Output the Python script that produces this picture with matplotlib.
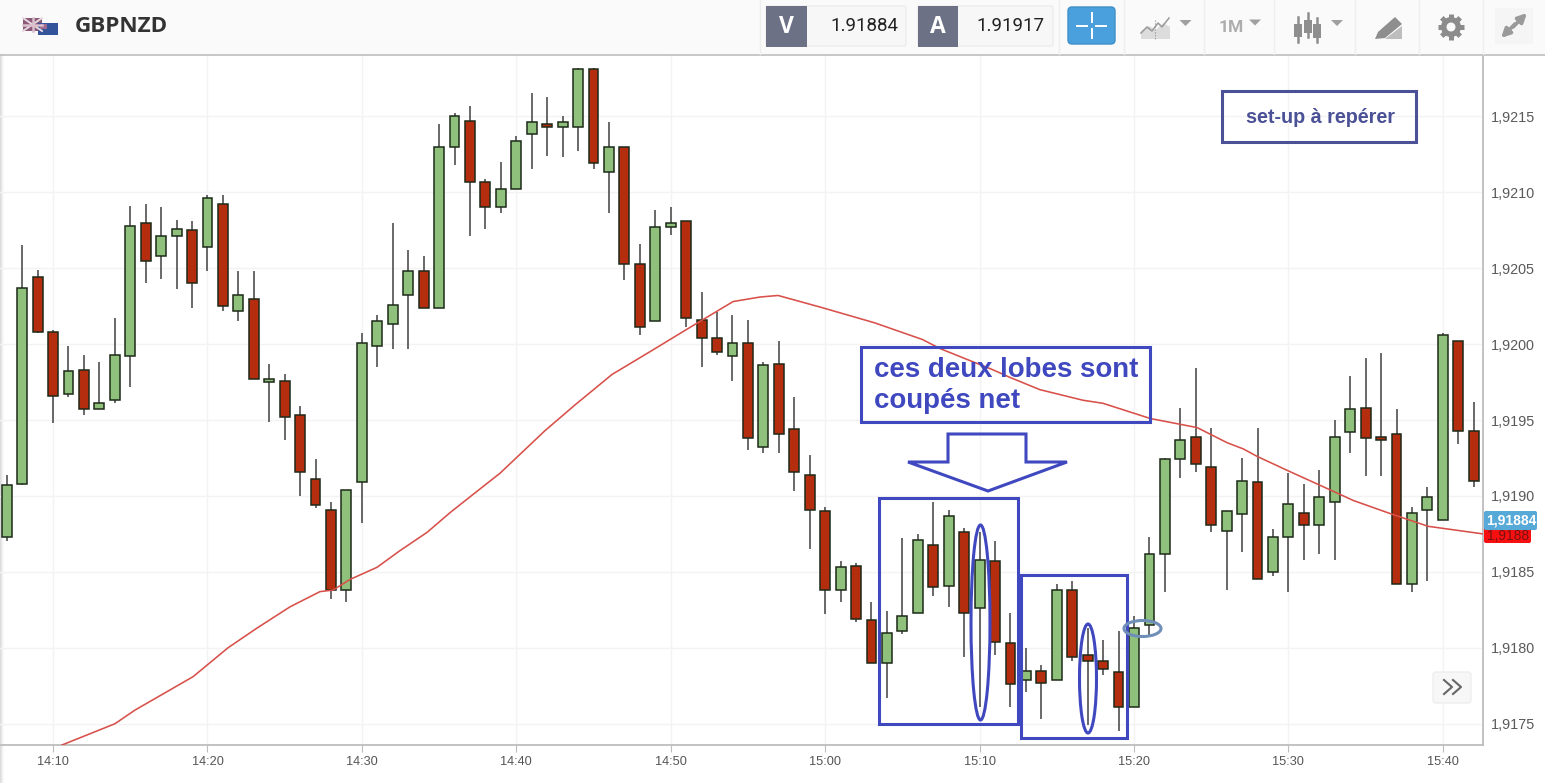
import numpy as np
import matplotlib
matplotlib.use("Agg")
import matplotlib.pyplot as plt
from matplotlib.patches import Rectangle, Ellipse, Polygon, FancyBboxPatch, Circle

# Prices in units of 0.00001, one candle per minute from 14:07
tops = [191907,192037,192044,192008,191982,191983,191961,191993,192078,192080,192071,192076,192075,192096,192092,192032,
        192030,191977,191976,191953,191911,191891,191904,192001,192015,192026,192048,192048,192130,192150,192147,192107,
        192102,192134,192146,192145,192146,192181,192181,192130,192130,192053,192077,192080,192081,192016,192004,192001,
        192001,191986,191987,191944,191914,191890,191853,191854,191818,191810,191821,191871,191868,191887,191876,191858,
        191857,191803,191785,191785,191838,191838,191795,191791,191784,191813,191862,191924,191937,191939,191919,191890,
        191910,191909,191873,191895,191889,191899,191939,191957,191958,191939,191941,191889,191899,192006,192002,191943]
bottoms = [191873,191908,192008,191966,191967,191957,191957,191963,191992,192055,192058,192071,192040,192064,192025,192022,
           191977,191975,191952,191916,191894,191838,191838,191909,191999,192013,192032,192024,192024,192130,192107,192090,
           192090,192102,192138,192143,192143,192143,192119,192113,192053,192011,192015,192077,192017,192004,191995,191992,
           191938,191932,191941,191916,191891,191838,191838,191819,191790,191790,191811,191823,191840,191841,191823,191826,
           191804,191776,191779,191777,191779,191794,191791,191786,191761,191761,191815,191862,191924,191921,191881,191877,
           191888,191845,191850,191873,191881,191881,191896,191942,191938,191937,191842,191842,191891,191884,191943,191910]
highs = [191914,192065,192049,192009,191999,191993,191988,192017,192091,192092,192090,192082,192081,192098,192098,192048,
         192048,191987,191980,191959,191924,191896,191904,192007,192019,192080,192062,192058,192145,192152,192157,192109,
         192120,192137,192165,192163,192150,192182,192182,192146,192130,192066,192088,192090,192081,192034,192021,192019,
         192016,191988,192002,191965,191927,191893,191857,191856,191830,191824,191872,191875,191896,191891,191879,191876,
         191870,191823,191800,191789,191842,191844,191813,191805,191811,191821,191873,191925,191958,191984,191945,191890,
         191925,191945,191878,191915,191908,191917,191950,191979,191991,191994,191957,191893,191906,192007,192002,191962]
lows = [191870,191907,192007,191948,191965,191953,191957,191961,191972,192040,192043,192036,192024,192048,192022,192015,
        191977,191949,191937,191900,191892,191832,191830,191882,191985,191997,191997,192024,192024,192118,192071,192076,
        192086,192102,192115,192124,192123,192127,192115,192086,192042,192006,192015,192072,192011,191985,191993,191976,
        191930,191928,191928,191903,191865,191822,191830,191817,191790,191767,191809,191823,191834,191827,191794,191761,
        191795,191761,191771,191753,191779,191791,191749,191782,191745,191761,191807,191837,191912,191916,191876,191838,
        191863,191845,191847,191837,191858,191862,191858,191928,191913,191913,191842,191837,191844,191884,191934,191906]
rising = [1,1,0,0,1,0,1,1,1,0,1,1,0,1,0,1,0,1,0,0,0,0,1,1,1,1,1,0,1,1,0,0,1,1,1,0,1,1,0,1,0,0,1,1,0,0,0,1,
          0,1,0,0,0,0,1,0,0,1,1,1,0,1,0,1,0,0,1,0,1,0,0,0,0,1,1,1,1,0,0,1,1,0,1,1,0,1,1,1,0,0,0,1,1,1,0,0]

ma_minutes = [3.58,7.01,8.31,12.07,14.33,16.21,18.35,20.29,21.13,22.23,23.98,25.47,27.22,28.71,30.2,31.95,34.86,36.81,
              39.2,41.66,44.25,47.04,48.8,49.95,52.8,56.2,59.3,60.45,63.88,64.98,66.9,69.7,70.99,74.05,77.09,79.04,
              80.07,80.98,83.1,85.05,86.35,87.2,89.7,92.05,95.6]
ma_values = [191736,191750,191759,191781,191800,191813,191827,191837,191838,191845,191853,191864,191876,191889,191901,
             191915,191943,191960,191980,191995,192011,192028,192031,192032,192024,192014,192003,191997,191983,191978,
             191970,191963,191961,191951,191945,191935,191931,191926,191916,191907,191901,191897,191888,191880,191875]

price_ticks = [1.9175,1.9180,1.9185,1.9190,1.9195,1.9200,1.9205,1.9210,1.9215]
price_labels = ["1,9175","1,9180","1,9185","1,9190","1,9195","1,9200","1,9205","1,9210","1,9215"]
time_ticks = [3,13,23,33,43,53,63,73,83,93]
time_labels = ["14:10","14:20","14:30","14:40","14:50","15:00","15:10","15:20","15:30","15:40"]

W, H = 1545, 783
GREEN, RED, EDGE, WICK = "#8fc07c", "#b52d0f", "#1d2a18", "#4f4f4f"
BLUE = "#3f48bf"
NAVY = "#4a5196"
plt.rcParams['font.family'] = ['Liberation Sans', 'DejaVu Sans']

fig = plt.figure(figsize=(W/100, H/100), dpi=100, facecolor="white")
# left shade sits behind the chart
for i, c in enumerate(["#dcdcdc", "#e8e8e8", "#f2f2f2", "#f9f9f9"]):
    fig.patches.append(Rectangle((i/W, 0), 1/W, 1, transform=fig.transFigure, fc=c, ec="none", figure=fig, zorder=-5))

ax = fig.add_axes([0, (H-745)/H, 1483/W, (745-54)/H])
ax.patch.set_alpha(0)
idx = np.arange(len(tops))
t, b, hi, lo = [np.array(v)/1e5 for v in (tops, bottoms, highs, lows)]
cols = [GREEN if r else RED for r in rising]
ax.vlines(idx, lo, hi, color=WICK, lw=1.2, zorder=3)
ax.bar(idx, t-b, bottom=b, width=0.64, color=cols, edgecolor=EDGE, linewidth=1.1, zorder=4)
ax.plot(ma_minutes, np.array(ma_values)/1e5, color="#d8504a", lw=1.15, zorder=5)
ax.set_xlim(-0.434, 95.6)
ax.set_ylim(1.91736, 1.92191)
ax.set_xticks(time_ticks, time_labels)
ax.yaxis.tick_right()
ax.set_yticks(price_ticks, price_labels)
ax.grid(True, color="#f3f3f3", lw=1.0, zorder=0)
ax.set_axisbelow(True)
ax.tick_params(axis='x', length=5, color="#bdbdbd", labelsize=9.2, labelcolor="#555555", pad=3)
ax.tick_params(axis='y', length=0, labelsize=10.4, labelcolor="#5a5a5a", pad=6)
for s in ("top", "left"):
    ax.spines[s].set_visible(False)
for s in ("right", "bottom"):
    ax.spines[s].set_color("#bdbdbd")
    ax.spines[s].set_linewidth(1.3)

# Overlay in picture coordinates: toolbar chrome and hand-drawn annotations
ov = fig.add_axes([0, 0, 1, 1], facecolor="none")
ov.set_xlim(0, W); ov.set_ylim(H, 0); ov.axis("off")

def rect(x0, y0, x1, y1, **kw):
    ov.add_patch(Rectangle((x0, y0), x1-x0, y1-y0, **kw))

# toolbar
rect(0, 0, W, 54, fc="#fafafa", ec="none")
ov.plot([0, W], [54.5, 54.5], color="#bdbdbd", lw=1.2)
for x in (760, 1059, 1124, 1204, 1274, 1355, 1419, 1483):
    ov.plot([x, x], [0, 54], color="#eeeeee", lw=1)

# flags
rect(23, 18, 42, 31, fc="#8a5a78", ec="none")
ov.plot([23, 42], [18, 31], color="#e8d8e0", lw=1.4)
ov.plot([23, 42], [31, 18], color="#e8d8e0", lw=1.4)
ov.plot([32.5, 32.5], [18, 31], color="#d9c0cc", lw=1.8)
ov.plot([23, 42], [24.5, 24.5], color="#d9c0cc", lw=1.8)
rect(38, 23, 58, 35, fc="#33539a", ec="none")
rect(40, 24, 47, 29, fc="#a06a90", ec="none")
ov.text(75, 27, "GBPNZD", family="Open Sans", weight="bold", fontsize=16.2, color="#333333", va="center", ha="left")

# bid / ask boxes
for x0, x1, x2, letter, val in ((766, 807, 906, "V", "1.91884"), (918, 958, 1053, "A", "1.91917")):
    ov.add_patch(FancyBboxPatch((x0, 6), x2-x0, 40, boxstyle="round,pad=0,rounding_size=2", fc="#f7f7f7", ec="#ececec", lw=1))
    rect(x0, 6, x1, 47, fc="#6c7186", ec="none")
    ov.text((x0+x1)/2, 27, letter, color="white", weight="bold", fontsize=16.5, family="Open Sans", ha="center", va="center")
    ov.text(x2-8, 26, val, color="#222222", fontsize=13.5, family="Roboto", ha="right", va="center")

# crosshair button
ov.add_patch(FancyBboxPatch((1068, 7), 47, 37, boxstyle="round,pad=0,rounding_size=4", fc="#4aa0dd", ec="#3f8fc8", lw=1))
for xs, ys in (([1091.5, 1091.5], [13, 22]), ([1091.5, 1091.5], [29, 38]), ([1077, 1087], [25.5, 25.5]), ([1096, 1106], [25.5, 25.5])):
    ov.plot(xs, ys, color="white", lw=1.4)

# toolbar icons
ov.add_patch(Polygon([(1141, 39), (1141, 31), (1149, 26), (1156, 30), (1163, 23), (1170, 27), (1170, 39)], fc="#dcdcdc", ec="none"))
ov.plot([1141, 1147, 1152, 1158, 1162, 1169], [33, 27, 31, 23, 27, 18], color="#9a9a9a", lw=1.1)
ov.plot([1155, 1155], [20, 40], color="#8c8c8c", lw=0.8, ls=":")
for x, y in ((1185.5, 22), (1255, 21.5), (1337, 22)):
    ov.add_patch(Polygon([(x-6, y-2), (x+6, y-2), (x, y+4)], fc="#a0a0a0", ec="none"))
ov.text(1231, 27, "1M", color="#adadad", weight="bold", fontsize=12.5, family="Roboto", ha="center", va="center")
for x, y0, y1, b0, b1 in ((1298, 17, 42, 24, 37), (1308, 13, 37, 20, 33), (1317, 18, 42, 24, 38)):
    ov.plot([x, x], [y0, y1], color="#8e8e8e", lw=1.8)
    rect(x-4, b0, x+4, b1, fc="#8e8e8e", ec="none")
ov.add_patch(Polygon([(1385, 39), (1402, 26), (1402, 39)], fc="#bdbdbd", ec="none"))
ov.add_patch(Polygon([(1375, 39), (1378, 32), (1395, 17), (1402, 24), (1385, 38)], fc="#8e8e8e", ec="none"))
for ang in np.arange(0, 360, 45):
    ca, sa = np.cos(np.radians(ang)), np.sin(np.radians(ang))
    ov.plot([1451+8*ca, 1451+13*ca], [27+8*sa, 27+13*sa], color="#8c8c8c", lw=3.6, solid_capstyle="butt")
ov.add_patch(Circle((1451, 27), 10, fc="#8c8c8c", ec="none"))
ov.add_patch(Circle((1451, 27), 4.5, fc="#fafafa", ec="none"))
rect(1495, 8, 1533, 44, fc="#f5f5f5", ec="none")
for a, c in (((1527, 13), (1513, 27)), ((1501, 38), (1515, 24))):
    ov.annotate("", xy=a, xytext=c, arrowprops=dict(arrowstyle="-|>", color="#9a9a9a", lw=2.6, mutation_scale=13, shrinkA=0, shrinkB=0))

# price tags
ov.add_patch(FancyBboxPatch((1484, 527), 47, 16, boxstyle="round,pad=0,rounding_size=2", fc="#f81010", ec="none"))
ov.text(1508, 535.5, "1,9188", color="#7a1010", fontsize=10, ha="center", va="center")
ov.add_patch(FancyBboxPatch((1484, 511), 53, 19, boxstyle="round,pad=0,rounding_size=2", fc="#57a9d8", ec="none"))
ov.text(1511, 520.5, "1,91884", color="white", weight="bold", fontsize=10, ha="center", va="center")

# scroll button
ov.add_patch(FancyBboxPatch((1433, 672), 38, 31, boxstyle="round,pad=0,rounding_size=3", fc="#f7f7f7", ec="#eeeeee", lw=1))
for dx in (0, 9):
    ov.plot([1444+dx, 1452+dx, 1444+dx], [680, 687, 694], color="#666666", lw=1.5)

# annotations
LW = 2.2
rect(1222, 91, 1416, 142, fc="none", ec=NAVY, lw=LW)
ov.text(1320, 117.5, "set-up à repérer", color=NAVY, weight="bold", fontsize=14.2, ha="center", va="center")
rect(861, 347, 1150, 422, fc="none", ec=BLUE, lw=LW, zorder=6)
ov.text(874, 370, "ces deux lobes sont", color=BLUE, weight="bold", fontsize=19.9, ha="left", va="center", zorder=7)
ov.text(874, 401.5, "coupés net", color=BLUE, weight="bold", fontsize=19.9, ha="left", va="center", zorder=7)
ov.add_patch(Polygon([(948, 434), (1026, 434), (1026, 462), (1067, 462), (988, 491), (908, 462), (948, 462)], fc="none", ec=BLUE, lw=LW))
rect(879, 498, 1018, 724, fc="none", ec=BLUE, lw=LW)
rect(1021, 575, 1127, 738, fc="none", ec=BLUE, lw=LW)
ov.add_patch(Ellipse((980.5, 622.5), 19, 195, fc="none", ec=BLUE, lw=LW))
ov.add_patch(Ellipse((1088, 678.5), 17, 109, fc="none", ec=BLUE, lw=LW))
ov.add_patch(Ellipse((1142.5, 628.5), 37, 16, fc="none", ec="#6f8fb8", lw=LW))

fig.savefig("out.png", dpi=100)
